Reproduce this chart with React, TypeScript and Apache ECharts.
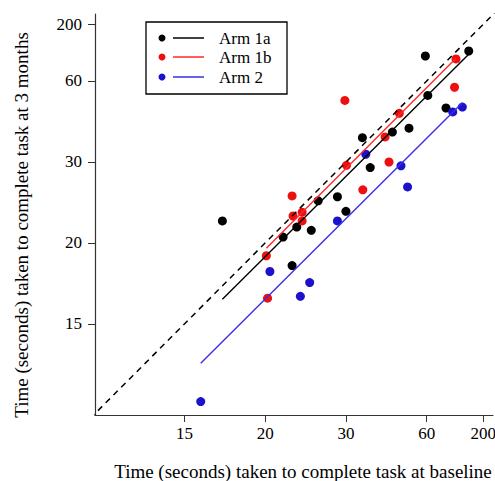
import React, { useEffect, useRef } from "react";
import * as echarts from "echarts";

// Tick labels (seconds)
const xTicks = [15, 20, 30, 60, 200];
const yTicks = [15, 20, 30, 60, 200];

// Arm 1a (black)
const arm1aX = [17.0, 21.6, 22.5, 23.0, 24.7, 25.6, 28.5, 30.0, 33.4, 35.3, 42.1, 49.2, 59.0, 60.8, 78.8, 125];
const arm1aY = [22.0, 20.5, 18.3, 21.4, 21.1, 24.2, 24.7, 23.0, 35.3, 29.0, 36.8, 37.9, 86.8, 50.9, 45.0, 95.3];
// Arm 1b (red)
const arm1bX = [20.1, 20.2, 22.5, 22.6, 23.6, 23.6, 29.8, 30.1, 33.5, 39.6, 40.9, 44.8, 91.5, 94.1];
const arm1bY = [19.0, 16.3, 24.8, 22.5, 22.9, 22.0, 48.4, 29.4, 25.6, 35.5, 30.0, 42.9, 55.7, 82.4];
// Arm 2 (blue)
const arm2X = [15.8, 20.4, 23.4, 24.5, 28.5, 34.2, 45.5, 48.5, 88.5, 107.3];
const arm2Y = [12.1, 17.9, 16.4, 17.2, 22.0, 31.5, 29.3, 26.0, 43.4, 45.4];

// Fitted lines (start/end in seconds)
const fit1a = [[17.0, 16.24], [125, 89.5]];
const fit1b = [[20.1, 19.57], [94.1, 83.4]];
const fit2 = [[15.8, 13.38], [107.3, 47.3]];

// Axis extents (seconds)
const xRange = [11.75, 334];
const yRange = [11.71, 347];
const identity = [[11, 11], [400, 400]];

const t = (v: number) => -1 / v;
const pts = (xs: number[], ys: number[]) => xs.map((x, i) => [t(x), t(ys[i])]);
const seg = (s: number[][]) => s.map(([x, y]) => [t(x), t(y)]);

const FONT = "Liberation Serif, Times New Roman, serif";
const BLACK = "#000000";
const RED = "#ee0f0f";
const BLUE = "#1c12cc";
const RED_L = "#ff2a2a";
const BLUE_L = "#3a2ee6";

export default function App() {
  const ref = useRef<HTMLDivElement>(null);
  useEffect(() => {
    document.body.style.margin = "0";
    const chart = echarts.init(ref.current!, null, { renderer: "svg" });
    const axisCommon = {
      type: "value",
      splitLine: { show: false },
      axisLine: { show: true, lineStyle: { color: "#333", width: 1.2 } },
    };
    const legendRows = [
      { label: "Arm 1a", dot: BLACK, line: BLACK, y: 38 },
      { label: "Arm 1b", dot: RED, line: RED_L, y: 57 },
      { label: "Arm 2", dot: BLUE, line: BLUE_L, y: 77 },
    ];
    const legendEls: any[] = [
      {
        type: "rect",
        shape: { x: 146, y: 22, width: 141, height: 72 },
        style: { fill: "#fff", stroke: "#000", lineWidth: 1.3 },
        z: 100,
      },
    ];
    legendRows.forEach((r) => {
      legendEls.push({ type: "circle", shape: { cx: 162, cy: r.y, r: 3.5 }, style: { fill: r.dot }, z: 101 });
      legendEls.push({
        type: "line",
        shape: { x1: 173, y1: r.y, x2: 204, y2: r.y },
        style: { stroke: r.line, lineWidth: 1.5 },
        z: 101,
      });
      legendEls.push({
        type: "text",
        x: 219,
        y: r.y,
        style: { text: r.label, font: `17px ${FONT}`, fill: "#000", verticalAlign: "middle", align: "left" },
        z: 101,
      });
    });

    chart.setOption({
      animation: false,
      grid: { left: 95, top: 14, width: 398, height: 401, containLabel: false, outerBoundsMode: "none" },
      xAxis: {
        ...axisCommon,
        min: t(xRange[0]),
        max: t(xRange[1]),
        axisTick: { show: true, length: 7, inside: false, customValues: xTicks.map(t), lineStyle: { color: "#333" } },
        axisLabel: {
          customValues: xTicks.map(t),
          formatter: (v: number) => String(Math.round(-1 / v)),
          fontFamily: FONT,
          fontSize: 17,
          color: "#000",
          margin: 10,
        },
      },
      yAxis: {
        ...axisCommon,
        min: t(yRange[0]),
        max: t(yRange[1]),
        axisTick: { show: true, length: 7, inside: false, customValues: yTicks.map(t), lineStyle: { color: "#333" } },
        axisLabel: {
          customValues: yTicks.map(t),
          formatter: (v: number) => String(Math.round(-1 / v)),
          fontFamily: FONT,
          fontSize: 17,
          color: "#000",
          margin: 13,
        },
      },
      series: [
        {
          type: "line",
          data: seg(identity),
          showSymbol: false,
          lineStyle: { color: "#000", width: 1.5, type: [6, 5] },
          clip: true,
          silent: true,
        },
        { type: "scatter", data: pts(arm1aX, arm1aY), symbolSize: 9, itemStyle: { color: BLACK, opacity: 1 } },
        { type: "scatter", data: pts(arm1bX, arm1bY), symbolSize: 9, itemStyle: { color: RED, opacity: 1 } },
        { type: "scatter", data: pts(arm2X, arm2Y), symbolSize: 9, itemStyle: { color: BLUE, opacity: 1 } },
        { type: "line", data: seg(fit1a), showSymbol: false, lineStyle: { color: BLACK, width: 1.4 } },
        { type: "line", data: seg(fit1b), showSymbol: false, lineStyle: { color: RED_L, width: 1.4 } },
        { type: "line", data: seg(fit2), showSymbol: false, lineStyle: { color: BLUE_L, width: 1.4 } },
      ],
      graphic: [
        {
          type: "text",
          x: 303,
          y: 471,
          style: {
            text: "Time (seconds) taken to complete task at baseline",
            font: `19px ${FONT}`,
            fill: "#000",
            align: "center",
            verticalAlign: "middle",
          },
        },
        {
          type: "text",
          x: 21,
          y: 225,
          rotation: Math.PI / 2,
          style: {
            text: "Time (seconds) taken to complete task at 3 months",
            font: `19px ${FONT}`,
            fill: "#000",
            align: "center",
            verticalAlign: "middle",
          },
        },
        ...legendEls,
      ],
    });
    return () => chart.dispose();
  }, []);
  return <div ref={ref} style={{ position: "absolute", left: 0, top: 0, width: 495, height: 481 }} />;
}
